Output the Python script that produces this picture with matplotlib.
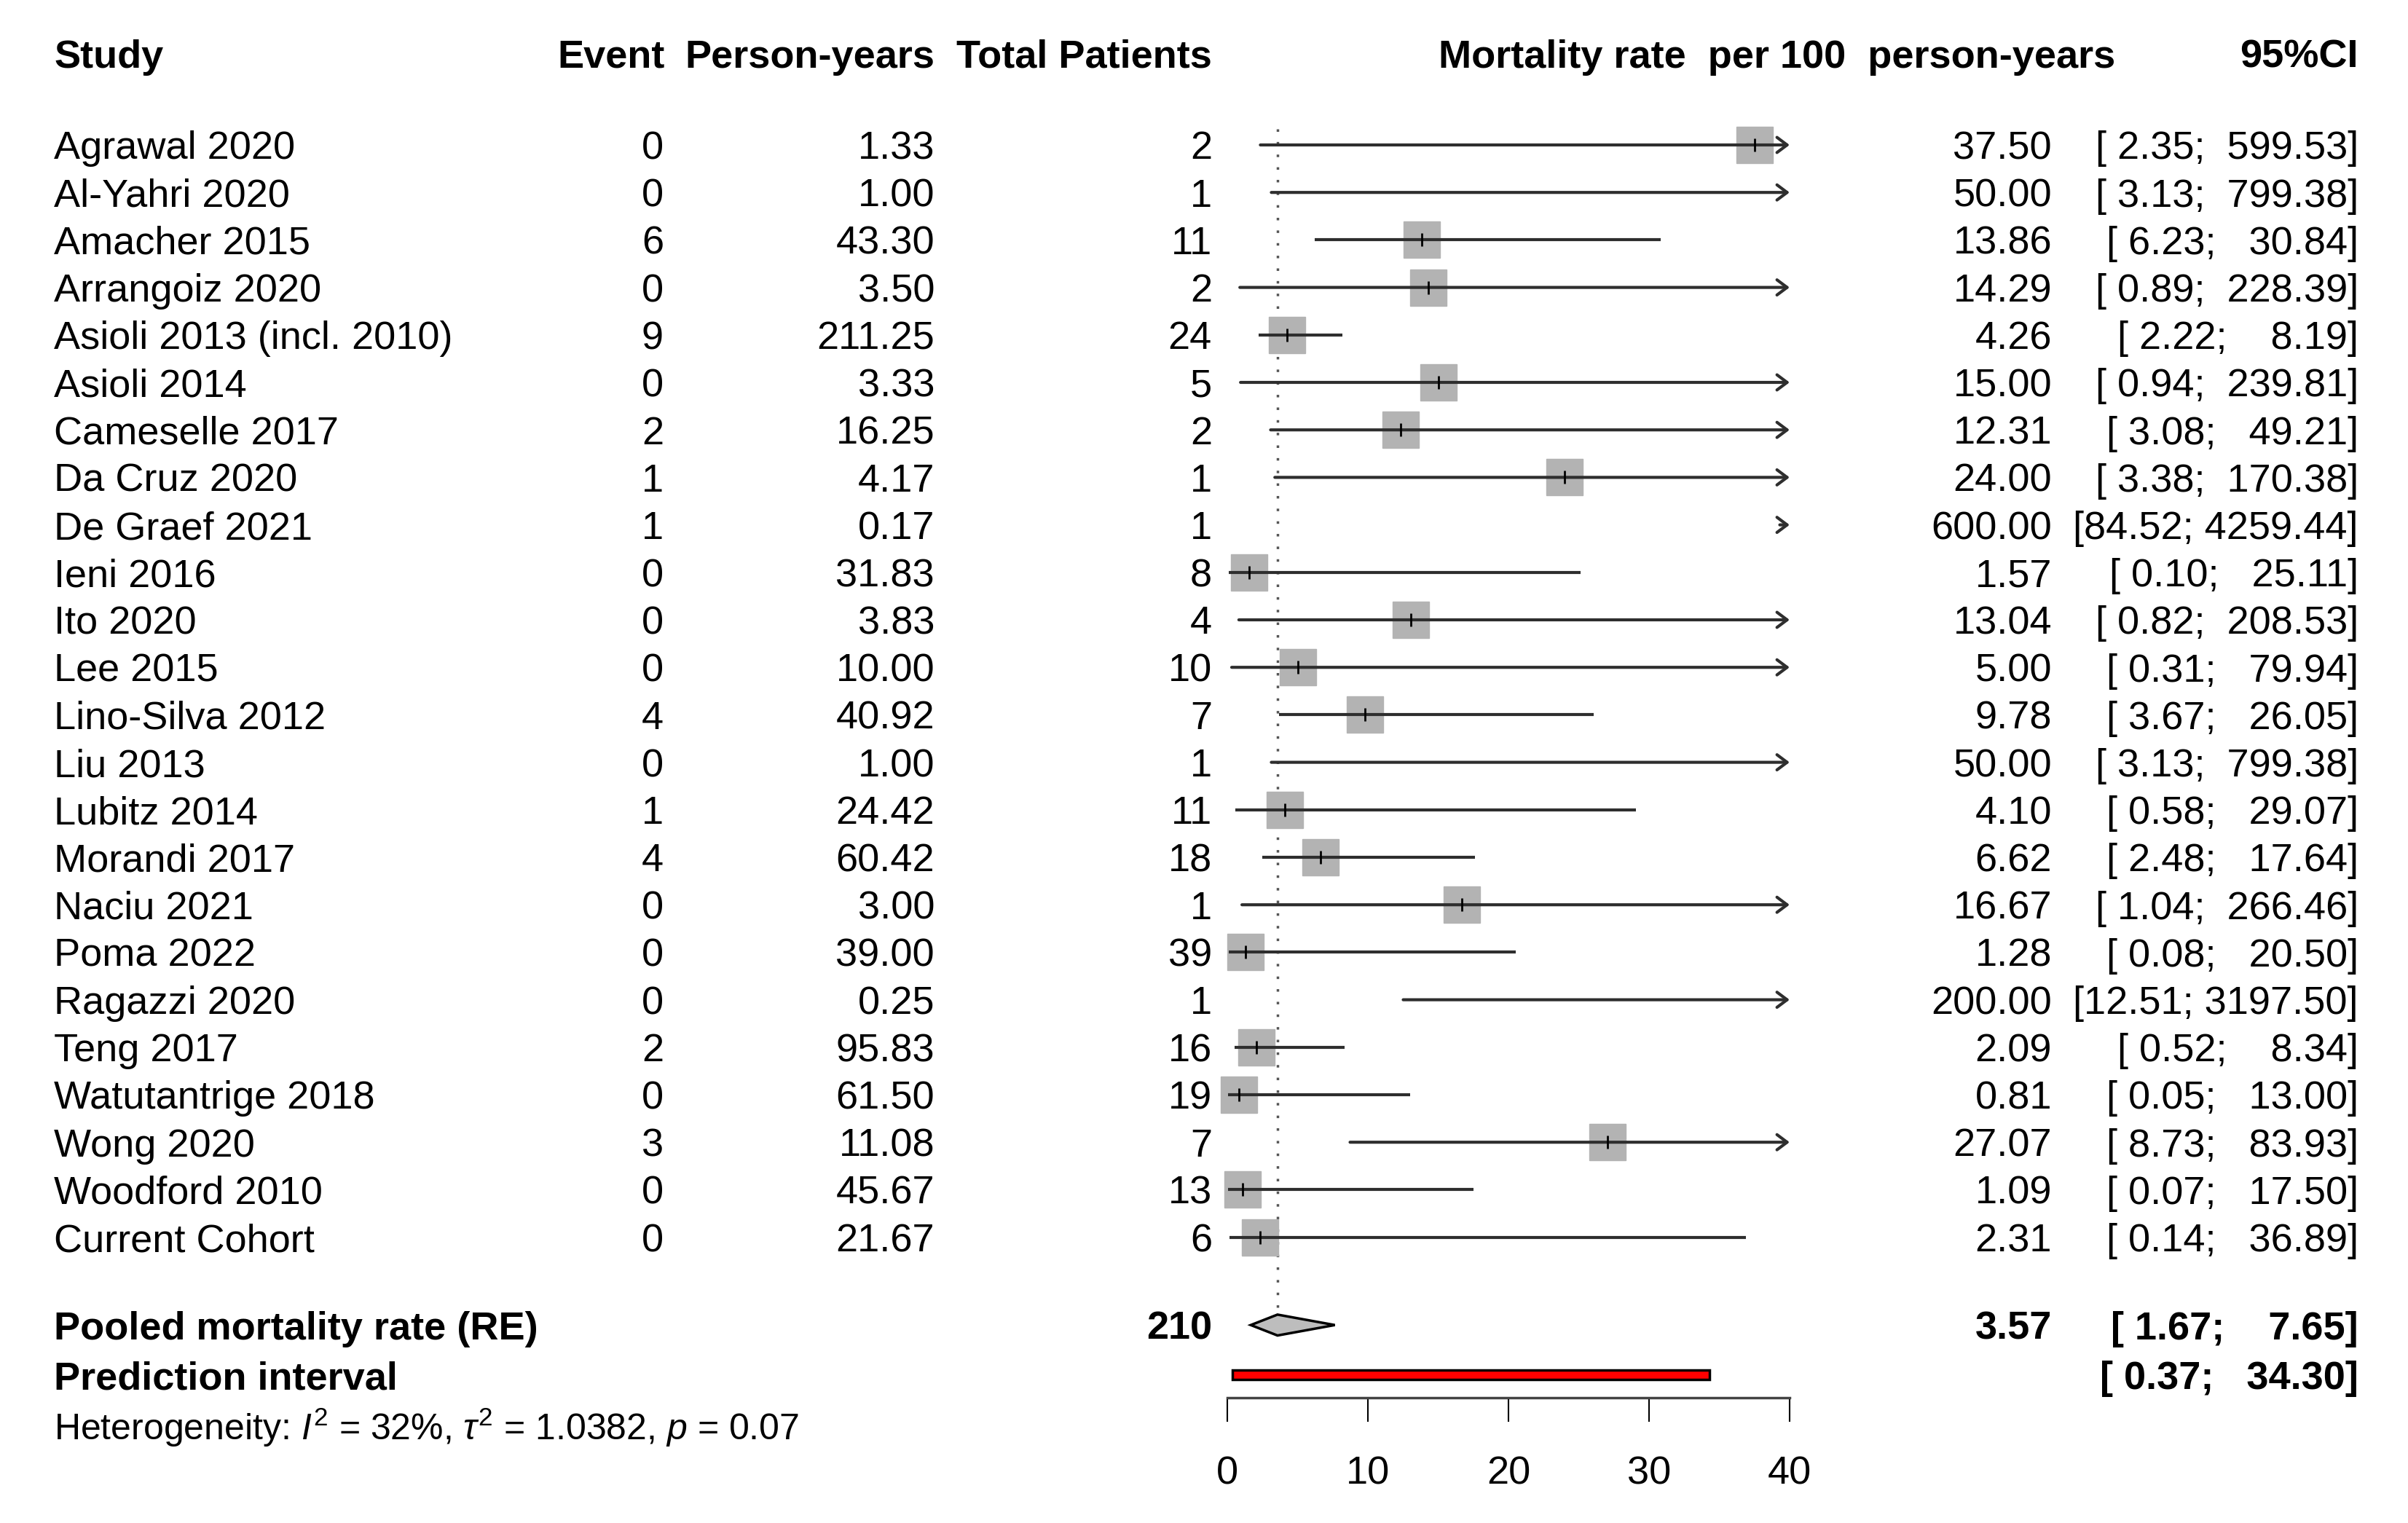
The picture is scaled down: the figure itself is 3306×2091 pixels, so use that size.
import matplotlib
matplotlib.use("Agg")
import matplotlib.pyplot as plt
import numpy as np
from matplotlib.transforms import blended_transform_factory

plt.rcParams['font.family'] = ['Liberation Sans', 'DejaVu Sans']
plt.rcParams['mathtext.fontset'] = 'custom'
plt.rcParams['mathtext.rm'] = 'Liberation Sans'
plt.rcParams['mathtext.it'] = 'Liberation Sans:italic'
plt.rcParams['mathtext.bf'] = 'Liberation Sans:bold'

studies = ['Agrawal 2020', 'Al-Yahri 2020', 'Amacher 2015', 'Arrangoiz 2020',
           'Asioli 2013 (incl. 2010)', 'Asioli 2014', 'Cameselle 2017', 'Da Cruz 2020',
           'De Graef 2021', 'Ieni 2016', 'Ito 2020', 'Lee 2015', 'Lino-Silva 2012',
           'Liu 2013', 'Lubitz 2014', 'Morandi 2017', 'Naciu 2021', 'Poma 2022',
           'Ragazzi 2020', 'Teng 2017', 'Watutantrige 2018', 'Wong 2020',
           'Woodford 2010', 'Current Cohort']
events = [0, 0, 6, 0, 9, 0, 2, 1, 1, 0, 0, 0, 4, 0, 1, 4, 0, 0, 0, 2, 0, 3, 0, 0]
person_years = [1.33, 1.00, 43.30, 3.50, 211.25, 3.33, 16.25, 4.17, 0.17, 31.83, 3.83,
                10.00, 40.92, 1.00, 24.42, 60.42, 3.00, 39.00, 0.25, 95.83, 61.50,
                11.08, 45.67, 21.67]
patients = [2, 1, 11, 2, 24, 5, 2, 1, 1, 8, 4, 10, 7, 1, 11, 18, 1, 39, 1, 16, 19, 7, 13, 6]
rate = [37.50, 50.00, 13.86, 14.29, 4.26, 15.00, 12.31, 24.00, 600.00, 1.57, 13.04,
        5.00, 9.78, 50.00, 4.10, 6.62, 16.67, 1.28, 200.00, 2.09, 0.81, 27.07, 1.09, 2.31]
lower = [2.35, 3.13, 6.23, 0.89, 2.22, 0.94, 3.08, 3.38, 84.52, 0.10, 0.82, 0.31, 3.67,
         3.13, 0.58, 2.48, 1.04, 0.08, 12.51, 0.52, 0.05, 8.73, 0.07, 0.14]
upper = [599.53, 799.38, 30.84, 228.39, 8.19, 239.81, 49.21, 170.38, 4259.44, 25.11,
         208.53, 79.94, 26.05, 799.38, 29.07, 17.64, 266.46, 20.50, 3197.50, 8.34, 13.00,
         83.93, 17.50, 36.89]

pooled_rate, pooled_lo, pooled_hi = 3.57, 1.67, 7.65
pred_lo, pred_hi = 0.37, 34.30
total_n = 210
ticks = [0, 10, 20, 30, 40]

W, H = 3306, 2091
fig = plt.figure(figsize=(W / 100, H / 100), dpi=100)
# forest panel: x in rate units, y in row units
ax = fig.add_axes([1685 / W, 0, 772 / W, 1])
row_h, row0 = 65.2, 199
ax.set_ylim((H - row0) / row_h, -row0 / row_h)
ax.set_xlim(0, 40)
xmax = 40

fs = 39
va = 'center_baseline'
tr = blended_transform_factory(fig.transFigure, ax.transData)
x_study, x_event, x_py, x_tot = 74 / W, 911 / W, 1283 / W, 1664 / W
x_est, x_ci, x_hdr = 2817 / W, 3238 / W, 1975 / W

line_col = '#2e2e2e'
n = len(studies)
y = np.arange(n)

# reference line at pooled estimate
ax.vlines(pooled_rate, -0.34, 24.48, colors='#555555', linestyles=(0, (1, 4)),
          lw=2.5, clip_on=False)

for i in range(n):
    if rate[i] <= xmax:
        ax.plot(rate[i], y[i], marker='s', ms=36, color='#b3b3b3', mec='#b3b3b3',
                ls='none', clip_on=False, zorder=2)
    lo = lower[i]
    if upper[i] > xmax:
        start = lo if lo < xmax else xmax - 0.7
        ax.annotate('', xy=(xmax, y[i]), xytext=(start, y[i]),
                    arrowprops=dict(arrowstyle='->,head_length=0.4,head_width=0.3',
                                    lw=3, color=line_col, shrinkA=0, shrinkB=0,
                                    mutation_scale=25),
                    annotation_clip=False, zorder=3)
    else:
        ax.plot([lo, upper[i]], [y[i], y[i]], color=line_col, lw=3,
                solid_capstyle='butt', clip_on=False, zorder=3)
    if rate[i] <= xmax:
        ax.plot(rate[i], y[i], marker='|', ms=13, mew=2, color='black',
                ls='none', clip_on=False, zorder=4)

    ax.text(x_study, y[i], studies[i], transform=tr, fontsize=fs, va=va, ha='left')
    ax.text(x_event, y[i], str(events[i]), transform=tr, fontsize=fs, va=va, ha='right')
    ax.text(x_py, y[i], f'{person_years[i]:.2f}', transform=tr, fontsize=fs,
            va=va, ha='right')
    ax.text(x_tot, y[i], str(patients[i]), transform=tr, fontsize=fs, va=va, ha='right')
    ax.text(x_est, y[i], f'{rate[i]:.2f}', transform=tr, fontsize=fs, va=va, ha='right')
    ax.text(x_ci, y[i], f'[{lower[i]:5.2f}; {upper[i]:7.2f}]', transform=tr,
            fontsize=fs, va=va, ha='right')

# headers
y_hdr = -1.93
ax.text(x_study, y_hdr, 'Study', transform=tr, fontsize=fs, weight='bold', va=va)
ax.text(913 / W, y_hdr, 'Event', transform=tr, fontsize=fs, weight='bold',
        va=va, ha='right')
ax.text(x_py, y_hdr, 'Person-years', transform=tr, fontsize=fs, weight='bold',
        va=va, ha='right')
ax.text(x_tot, y_hdr, 'Total Patients', transform=tr, fontsize=fs, weight='bold',
        va=va, ha='right')
ax.text(x_hdr, y_hdr, 'Mortality rate  per 100  person-years', transform=tr,
        fontsize=fs, weight='bold', va=va, ha='left')
ax.text(x_ci, y_hdr, '95%CI', transform=tr, fontsize=fs, weight='bold',
        va=va, ha='right')

# pooled estimate
y_pool = 24.85
dh = 0.22
ax.fill([pooled_lo, pooled_rate, pooled_hi, pooled_rate],
        [y_pool, y_pool - dh, y_pool, y_pool + dh],
        facecolor='#bdbdbd', edgecolor='black', lw=2.5, clip_on=False, zorder=3)
ax.text(x_study, y_pool, 'Pooled mortality rate (RE)', transform=tr, fontsize=fs,
        weight='bold', va=va)
ax.text(x_tot, y_pool, str(total_n), transform=tr, fontsize=fs, weight='bold',
        va=va, ha='right')
ax.text(x_est, y_pool, f'{pooled_rate:.2f}', transform=tr, fontsize=fs, weight='bold',
        va=va, ha='right')
ax.text(x_ci, y_pool, f'[{pooled_lo:5.2f}; {pooled_hi:7.2f}]', transform=tr,
        fontsize=fs, weight='bold', va=va, ha='right')

# prediction interval
y_pred = 25.9
ax.barh(y_pred, pred_hi - pred_lo, left=pred_lo, height=0.2, color='#ff0000',
        edgecolor='black', lw=2.5, clip_on=False, zorder=3)
ax.text(x_study, y_pred, 'Prediction interval', transform=tr, fontsize=fs,
        weight='bold', va=va)
ax.text(x_ci, y_pred, f'[{pred_lo:5.2f}; {pred_hi:7.2f}]', transform=tr,
        fontsize=fs, weight='bold', va=va, ha='right')

ax.text(x_study, 26.92, r'Heterogeneity: $\mathit{I}^2$ = 32%, $\tau^2$ = 1.0382, $\mathit{p}$ = 0.07',
        transform=tr, fontsize=36, va=va, ha='left')

# x axis
for s in ['left', 'right', 'top']:
    ax.spines[s].set_visible(False)
ax.spines['bottom'].set_position(('data', 26.38))
ax.spines['bottom'].set_bounds(0, 40)
ax.spines['bottom'].set_linewidth(2.5)
ax.spines['bottom'].set_color('#444444')
ax.set_xticks(ticks)
ax.set_xticklabels([str(t) for t in ticks])
ax.tick_params(axis='x', direction='out', length=24, width=1.5, color='black',
               labelsize=fs, pad=33)
ax.set_yticks([])
ax.patch.set_visible(False)

plt.savefig('out.png', dpi=100)
